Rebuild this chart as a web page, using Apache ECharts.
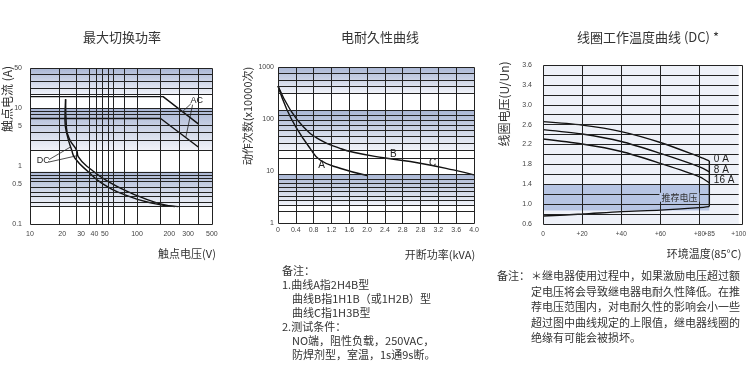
<!DOCTYPE html>
<html><head><meta charset="utf-8">
<script src="https://cdn.jsdelivr.net/npm/echarts@6/dist/echarts.min.js"></script>
<style>html,body{margin:0;padding:0;background:#fff}#c{width:749px;height:375px}</style>
</head><body><div id="c"></div>
<script>
// ---------- Chart 1: 最大切换功率 (log-log) ----------
const c1XTicks = [10, 20, 30, 40, 50, 100, 200, 300, 400, 500];
const c1YTicks = [50, 10, 5, 1, 0.5, 0.1];
const c1DcInner = [[21.5,14.4],[21.2,6.3],[22.2,3.47],[24.5,1.91],[26.3,1.37],[35,0.8],[46.7,0.51],[77,0.32],[137,0.23],[226,0.2]];
const c1DcOuter = [[21.5,14.4],[21.9,4.6],[23.6,2.84],[27.3,1.88],[28.2,1.46],[37.7,0.86],[53.8,0.54],[89,0.34],[158,0.228],[242,0.2]];
const c1AcUpper = [[10,16],[175,16],[373,5.4]];
const c1AcLower = [[10,6.7],[166,6.7],[373,2.15]];

// ---------- Chart 2: 电耐久性曲线 ----------
const c2XTicks = ['0','0.4','0.8','1.2','1.6','2.0','2.4','2.8','2.8','3.2','3.6','4.0'];
const c2YTicks = [1, 10, 100, 1000];
const c2CurveA  = [[0,430],[0.49,154],[1.05,66],[1.8,27.3],[2.36,16.3],[3.48,11.3],[5,8.2]];
const c2CurveBC = [[0,430],[0.67,154],[1.42,71],[2.36,39.5],[3.48,27.3],[4.23,22.9],[5.91,18],[7.97,14.1],[9.84,10.5],[11,8.4]];

// ---------- Chart 3: 线圈工作温度曲线 ----------
const c3XTicks  = [0, 20, 40, 60, 80, 85, 100];
const c3XLabels = ['0','+20','+40','+60','+80','+85','+100'];
const c3YTicks  = [0.6, 1.0, 1.4, 1.8, 2.2, 2.6, 3.0, 3.4, 3.8];
const c3YLabels = ['0.6','1.0','1.4','1.8','2.2','2.6','3.0','3.4','3.6'];
const c3Temp  = [0, 20, 40, 60, 80, 85];
const c3Max0A  = [2.66, 2.59, 2.46, 2.24, 1.95, 1.87];
const c3Max8A  = [2.50, 2.41, 2.26, 2.02, 1.75, 1.65];
const c3Max16A = [2.31, 2.21, 2.06, 1.82, 1.55, 1.43];
const c3Min    = [0.76, 0.80, 0.85, 0.88, 0.93, 0.95];
const c3Recommended = [0.87, 1.4];

// ---------- decorative grid lines / bands (drawing grid of the original) ----------
const c1VLines = [18.8,26.9,35.5,41.8,47,53.5,59.5,76,100,166,248,373];
const c1HLines = [38.3,29.4,22.5,17.5,10,8.91,7.78,5.16,3.91,2.76,1.91,0.803,0.705,0.618,0.54,0.442,0.362,0.297,0.243,0.199];
const c1Bands  = [[50,17.5],[10,1.91],[0.803,0.199]];
const c2VLines = [1,2,3,4,5,6,7,8,9,10];
const c2HLines = [756,562,418,312,149,119,95.7,76.7,61.4,45.6,34.1,25.3,17.5,8.76,7.02,5.8,4.86,4.0,3.3,2.68,2.15,1.70];
const c2Bands  = [[1000,312],[149,25.3],[8.76,2.15]];
const c3VLines = [20,40,60,80];
const c3HLines = [0.8,1.0,1.2,1.4,1.6,1.8,2.0,2.2,2.4,2.6,2.8,3.0,3.2,3.4,3.6];

const FONT = "'Liberation Sans','Noto Sans CJK SC',sans-serif";
const CJK = "'Noto Sans CJK SC','Liberation Sans',sans-serif";
const G = [
  {left:30,  top:68, width:182, height:156},
  {left:278, top:67, width:196, height:156},
  {left:543, top:65, width:199, height:159}
];

const chart = echarts.init(document.getElementById('c'), null, {width:749, height:375});

const bandFill = {type:'linear',x:0,y:0,x2:0,y2:1,colorStops:[{offset:0,color:'#a9b6d4'},{offset:1,color:'#f1f3f9'}]};
const gridLineStyle = {color:'#222', width:1, type:'solid'};
function helper(gi, vlines, hlines, bands, extraArea){
  const areas = (bands||[]).map(b => [{yAxis:b[0]},{yAxis:b[1]}]);
  return {
    type:'line', xAxisIndex:gi, yAxisIndex:gi, data:[], silent:true, animation:false,
    markArea:{silent:true, itemStyle:{color: extraArea ? extraArea.color : bandFill}, data: extraArea ? extraArea.data : areas},
    markLine:{silent:true, symbol:['none','none'], label:{show:false}, lineStyle:gridLineStyle, emphasis:{disabled:true},
      data: vlines.map(v=>({xAxis:v})).concat(hlines.map(v=>({yAxis:v})))}
  };
}
const curve = (gi, name, data, smooth) => ({
  type:'line', name, xAxisIndex:gi, yAxisIndex:gi, data, smooth, showSymbol:false, symbol:'none',
  silent:true, animation:false, lineStyle:{color:'#111', width:1.4}, z:3
});
const tickLabel = (extra) => Object.assign({fontSize:7, color:'#444', fontFamily:FONT, hideOverlap:false, showMinLabel:true, showMaxLabel:true}, extra);
const bare = {axisLine:{show:false}, axisTick:{show:false}, splitLine:{show:false}, minorTick:{show:false}, minorSplitLine:{show:false}};

const option = {
  animation:false,
  backgroundColor:'#fff',
  grid: [
    Object.assign({show:true, backgroundColor:'#fff', borderWidth:0}, G[0]),
    Object.assign({show:true, backgroundColor:'#fff', borderWidth:0}, G[1]),
    Object.assign({show:true, backgroundColor:'#eef1f8', borderWidth:0}, G[2])
  ],
  xAxis: [
    Object.assign({type:'log', logBase:10, gridIndex:0, min:10, max:501,
      axisLabel: tickLabel({customValues:c1XTicks, formatter:v=>String(Math.round(+v)), margin:7})}, bare),
    Object.assign({type:'value', gridIndex:1, min:0, max:11, interval:1,
      axisLabel: tickLabel({formatter:v=>c2XTicks[Math.round(v)], margin:4})}, bare),
    Object.assign({type:'value', gridIndex:2, min:0, max:100,
      axisLabel: tickLabel({fontSize:6.5, customValues:c3XTicks, formatter:v=>c3XLabels[c3XTicks.findIndex(t=>Math.abs(t-v)<1e-6)], margin:7})}, bare)
  ],
  yAxis: [
    Object.assign({type:'log', logBase:10, gridIndex:0, min:0.1, max:50,
      axisLabel: tickLabel({customValues:c1YTicks, formatter:v=>String(+v), margin:8})}, bare),
    Object.assign({type:'log', logBase:10, gridIndex:1, min:1, max:1000,
      axisLabel: tickLabel({customValues:c2YTicks, formatter:v=>String(Math.round(v)), margin:4})}, bare),
    Object.assign({type:'value', gridIndex:2, min:0.6, max:3.8,
      axisLabel: tickLabel({customValues:c3YTicks, formatter:v=>c3YLabels[c3YTicks.findIndex(t=>Math.abs(t-v)<1e-6)], margin:11})}, bare)
  ],
  series: [
    helper(0, c1VLines, c1HLines, c1Bands),
    curve(0, 'DC-1', c1DcInner, 0.5),
    curve(0, 'DC-2', c1DcOuter, 0.5),
    curve(0, 'AC-1', c1AcUpper, false),
    curve(0, 'AC-2', c1AcLower, false),
    helper(1, c2VLines, c2HLines, c2Bands),
    curve(1, 'A', c2CurveA, 0.5),
    curve(1, 'B/C', c2CurveBC, 0.5),
    helper(2, c3VLines, c3HLines, null, {color:'#b7c5e3',
      data:[[{xAxis:c3Temp[0], yAxis:c3Recommended[1]},{xAxis:c3Temp[c3Temp.length-1], yAxis:c3Recommended[0]}]]}),
    curve(2, '0 A', c3Temp.map((t,i)=>[t,c3Max0A[i]]), 0.3),
    curve(2, '8 A', c3Temp.map((t,i)=>[t,c3Max8A[i]]), 0.3),
    curve(2, '16 A', c3Temp.map((t,i)=>[t,c3Max16A[i]]), 0.3),
    curve(2, 'min', c3Temp.map((t,i)=>[t,c3Min[i]]), 0.3),
    curve(2, 'edge', [[c3Temp[5], c3Max0A[5]],[c3Temp[5], c3Min[5]]], false)
  ]
};
chart.setOption(option);

// ---------- text & annotations ----------
function T(text, x, y, o){
  o = o || {};
  return {type:'text', x:x, y:y, rotation:o.rot||0, z:100, silent:true,
    style:{text:text, fill:o.color||'#333', font:(o.size||11)+'px '+(o.family||CJK),
      align:o.align||'left', verticalAlign:'middle', textAlign:o.align||'left', textVerticalAlign:'middle',
      backgroundColor:o.bg, padding:o.pad}};
}
function L(gi, a, b){
  const p = chart.convertToPixel({gridIndex:gi}, a), q = chart.convertToPixel({gridIndex:gi}, b);
  return {type:'line', z:100, silent:true, shape:{x1:p[0],y1:p[1],x2:q[0],y2:q[1]}, style:{stroke:'#222', lineWidth:0.8}};
}
function A(gi, text, pt, o){
  const p = chart.convertToPixel({gridIndex:gi}, pt);
  return T(text, p[0], p[1], Object.assign({family:FONT, size:9, color:'#222', align:'center'}, o||{}));
}
const frames = G.map(g => ({type:'rect', z:99, silent:true,
  shape:{x:g.left+0.5, y:g.top+0.5, width:g.width, height:g.height}, style:{fill:'none', stroke:'#222', lineWidth:1}}));

const gfx = frames.concat([
  T('最大切换功率', 122, 37, {align:'center', size:13}),
  T('电耐久性曲线', 380, 37, {align:'center', size:13}),
  T('线圈工作温度曲线 (DC) *', 648, 37, {align:'center', size:13}),
  T('触点电流 (A)', 7, 99, {align:'center', size:12, rot:Math.PI/2}),
  T('触点电压(V)', 187, 254, {align:'center', size:11}),
  T('动作次数(x10000次)', 248, 116, {align:'center', size:11, rot:Math.PI/2}),
  T('开断功率(kVA)', 440, 255, {align:'center', size:11}),
  T('线圈电压(U/Un)', 504, 104, {align:'center', size:12, rot:Math.PI/2}),
  T('环境温度(85°C)', 704, 254, {align:'center', size:11}),
  // chart 2 notes
  T('备注：', 282, 271), T('1.曲线A指2H4B型', 282, 285), T('曲线B指1H1B（或1H2B）型', 292, 299),
  T('曲线C指1H3B型', 292, 313), T('2.测试条件：', 282, 327), T('NO端，阻性负载，250VAC，', 292, 341),
  T('防焊剂型，室温，1s通9s断。', 292, 355),
  // chart 3 notes
  T('备注：', 497, 276), T('＊继电器使用过程中，如果激励电压超过额', 531, 276),
  T('定电压将会导致继电器电耐久性降低。在推', 531, 292), T('荐电压范围内，对电耐久性的影响会小一些', 531, 307),
  T('超过图中曲线规定的上限值，继电器线圈的', 531, 323), T('绝缘有可能会被损坏。', 531, 338),
  // chart 1 annotations
  A(0, 'DC', [13.3, 1.23]),
  L(0, [15.04, 1.30], [24.0, 2.16]), L(0, [15.04, 1.18], [27.5, 1.52]),
  A(0, 'AC', [360, 13.9]),
  L(0, [318, 12.0], [266, 8.8]), L(0, [330, 11.6], [285, 3.14]),
  // chart 2 annotations
  A(1, 'A', [2.45, 13.0], {size:10}), A(1, 'B', [6.47, 21.2], {size:10}), A(1, 'C', [8.68, 14.4], {size:10}),
  // chart 3 annotations
  A(2, '0 A', [87.3, 1.90], {align:'left', size:10}),
  A(2, '8 A', [87.3, 1.687], {align:'left', size:10}),
  A(2, '16 A', [87.3, 1.471], {align:'left', size:10}),
  A(2, '推荐电压', [69.7, 1.14], {family:CJK, size:9, color:'#333', bg:'#b7c5e3', pad:[0,2]})
]);
chart.setOption({graphic: gfx});
</script></body></html>
